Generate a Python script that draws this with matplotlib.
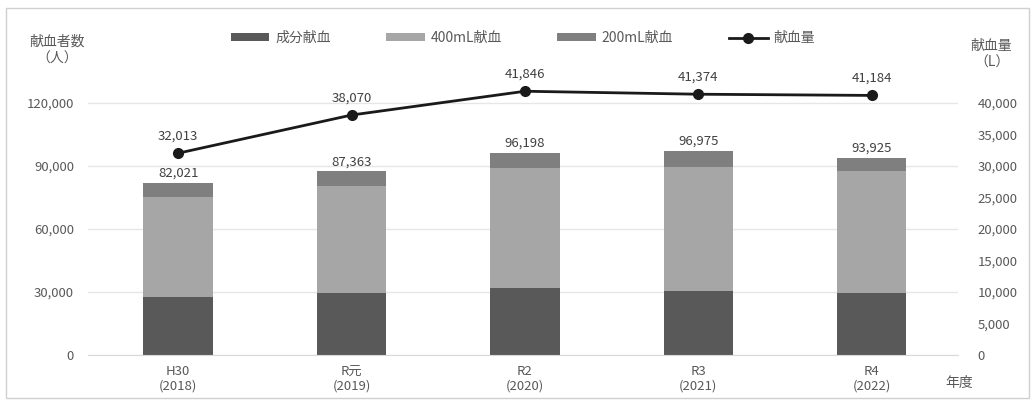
import matplotlib
matplotlib.use("Agg")
import matplotlib.pyplot as plt
from matplotlib.ticker import FuncFormatter
from matplotlib.patches import Rectangle

plt.rcParams['font.family'] = ['Noto Sans CJK JP', 'DejaVu Sans']

years = ["H30\n(2018)", "R元\n(2019)", "R2\n(2020)", "R3\n(2021)", "R4\n(2022)"]
component = [27800, 29400, 31750, 30650, 29400]
ml400 = [47600, 51200, 57450, 59000, 58400]
ml200 = [6621, 6763, 6998, 7325, 6125]
totals = [82021, 87363, 96198, 96975, 93925]
volume = [32013, 38070, 41846, 41374, 41184]

c_comp = "#595959"
c_400 = "#a6a6a6"
c_200 = "#7f7f7f"
txt = "#595959"

fig = plt.figure(figsize=(10.35, 4.01), dpi=100)
ax = fig.add_axes([0.085, 0.115, 0.841, 0.707])
ax2 = ax.twinx()

x = list(range(len(years)))
w = 0.4
b1 = ax.bar(x, component, w, color=c_comp, label="成分献血", zorder=2)
b2 = ax.bar(x, ml400, w, bottom=component, color=c_400, label="400mL献血", zorder=2)
bottom3 = [a + b for a, b in zip(component, ml400)]
b3 = ax.bar(x, ml200, w, bottom=bottom3, color=c_200, label="200mL献血", zorder=2)

for xi, t in zip(x, totals):
    ax.text(xi, t + 1500, f"{t:,}", ha="center", va="bottom", fontsize=9.5, color="#404040")

ln, = ax2.plot(x, volume, color="#1a1a1a", lw=2, marker="o", ms=7, label="献血量", zorder=3)
for xi, v in zip(x, volume):
    ax2.text(xi, v + 1700, f"{v:,}", ha="center", va="bottom", fontsize=9.5, color="#404040")

ax.set_xlim(-0.52, 4.5)
ax.set_ylim(0, 135000)
ax.set_yticks([0, 30000, 60000, 90000, 120000])
ax2.set_ylim(0, 45000)
ax2.set_yticks(range(0, 40001, 5000))
fmt = FuncFormatter(lambda v, p: f"{int(v):,}")
ax.yaxis.set_major_formatter(fmt)
ax2.yaxis.set_major_formatter(fmt)
ax.grid(axis="y", color="#e6e6e6", lw=1, zorder=0)
ax.set_axisbelow(True)

ax.set_xticks(x)
ax.set_xticklabels(years, fontsize=9, color=txt, linespacing=1.15)
for a in (ax, ax2):
    for s in a.spines.values():
        s.set_visible(False)
    a.tick_params(length=0, labelsize=9.5, labelcolor=txt)
ax.tick_params(axis="y", pad=10)
ax.tick_params(axis="x", pad=7)
ax2.tick_params(axis="y", pad=14)
ax.spines["bottom"].set_visible(True)
ax.spines["bottom"].set_color("#d9d9d9")

fig.text(0.055, 0.875, "献血者数\n（人）", ha="center", va="center", fontsize=10, color=txt, linespacing=1.3)
fig.text(0.958, 0.865, "献血量\n（L）", ha="center", va="center", fontsize=10, color=txt, linespacing=1.3)
fig.text(0.913, 0.045, "年度", ha="left", va="center", fontsize=10, color=txt)

fig.legend(handles=[b1, b2, b3, ln], loc="center", bbox_to_anchor=(0.505, 0.905), ncol=4,
           frameon=False, fontsize=10, handlelength=2.8, handleheight=0.5, handletextpad=0.4,
           columnspacing=4.0, labelcolor=txt)

fig.patches.append(Rectangle((0.006, 0.008), 0.988, 0.972, transform=fig.transFigure,
                             fill=False, edgecolor="#d0d0d0", lw=1))

fig.savefig("out.png", dpi=100)
